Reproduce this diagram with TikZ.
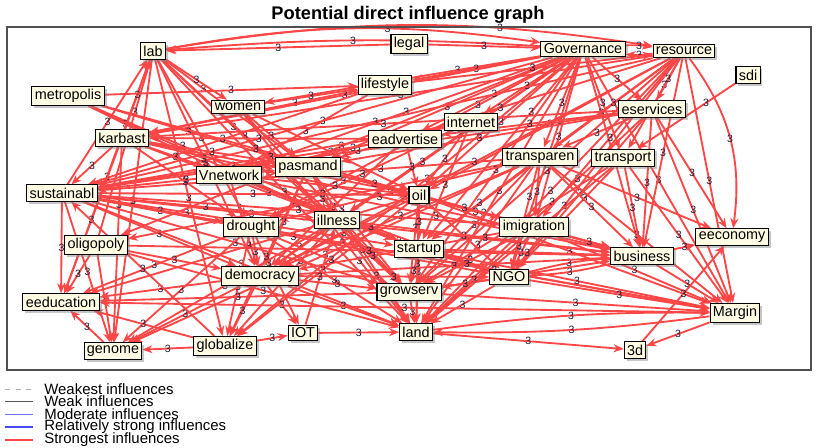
\documentclass[tikz,border=0pt]{standalone}
\usepackage{fontspec}
\setmainfont{Liberation Sans}
\usepackage{tikz}
\usetikzlibrary{arrows.meta,shadows}
\definecolor{linkR}{HTML}{FF4646}
\definecolor{boxF}{HTML}{FFFCE3}
\definecolor{inkN}{HTML}{1C1C3A}
\definecolor{frameG}{HTML}{505050}
\definecolor{weakG}{HTML}{5A5A5A}
\definecolor{modB}{HTML}{7070FF}
\definecolor{strB}{HTML}{4848FF}
\pgfdeclarelayer{links}
\pgfsetlayers{links,main}
\tikzset{
  vbox/.style={draw=black, semithick, fill=boxF, inner sep=1.6pt,
               font=\fontsize{8.2}{9}\selectfont,
               drop shadow={shadow xshift=1.4pt, shadow yshift=-1.4pt,
                            opacity=0.45, fill=gray}},
  infl/.style={-{Stealth[length=2mm,width=1.6mm]}, draw=linkR, line width=1.05pt},
  wt/.style={font=\fontsize{6}{6}\selectfont, text=inkN, inner sep=0pt},
  titletext/.style={font=\bfseries\fontsize{10.4}{12}\selectfont},
  legtext/.style={font=\fontsize{8.5}{9}\selectfont, anchor=west, inner sep=0pt},
}

\begin{document}
\begin{tikzpicture}[x=0.02cm, y=-0.02cm]
  \useasboundingbox (0,0) rectangle (817,448);
  \node[titletext] (title) at (408,15) {Potential direct influence graph};
  \draw[frameG, line width=0.9pt] (7,27) rectangle (811,370);
  % variables
  \node[vbox] (lab)       at (153,51)  {lab};
  \node[vbox] (legal)     at (409,44)  {legal};
  \node[vbox] (gov)       at (583,49)  {Governance};
  \node[vbox] (resource)  at (684,51)  {resource};
  \node[vbox] (sdi)       at (748,75)  {sdi};
  \node[vbox] (metro)     at (68,96)   {metropolis};
  \node[vbox] (lifestyle) at (385,85)  {lifestyle};
  \node[vbox] (women)     at (238,107) {women};
  \node[vbox] (eserv)     at (652,109) {eservices};
  \node[vbox] (internet)  at (471,122) {internet};
  \node[vbox] (eadv)      at (405,139) {eadvertise};
  \node[vbox] (karbast)   at (122,138) {karbast};
  \node[vbox] (transp)    at (540,157) {transparen};
  \node[vbox] (transport) at (623,158) {transport};
  \node[vbox] (pasmand)   at (308,167) {pasmand};
  \node[vbox] (vnet)      at (229,175) {Vnetwork};
  \node[vbox] (sustain)   at (62,193)  {sustainabl};
  \node[vbox] (oil)       at (419,195) {oil};
  \node[vbox] (illness)   at (337,220) {illness};
  \node[vbox] (drought)   at (251,227) {drought};
  \node[vbox] (imig)      at (534,227) {imigration};
  \node[vbox] (oligo)     at (96,245)  {oligopoly};
  \node[vbox] (startup)   at (419,249) {startup};
  \node[vbox] (eecon)     at (732,237) {eeconomy};
  \node[vbox] (business)  at (642,256) {business};
  \node[vbox] (democ)     at (260,276) {democracy};
  \node[vbox] (ngo)       at (509,277) {NGO};
  \node[vbox] (growserv)  at (409,292) {growserv};
  \node[vbox] (eeduc)     at (61,302)  {eeducation};
  \node[vbox] (margin)    at (735,313) {Margin};
  \node[vbox] (iot)       at (303,333) {IOT};
  \node[vbox] (land)      at (416,332) {land};
  \node[vbox] (genome)    at (113,351) {genome};
  \node[vbox] (glob)      at (225,346) {globalize};
  \node[vbox] (threed)    at (635,350) {3d};

  \begin{pgfonlayer}{links}
  % curved links along the top and right
  \draw[infl] (lab) to[bend left=9] node[wt, pos=0.6]{3} (gov);
  \draw[infl] (lab) to[bend left=9] node[wt, pos=0.7]{3} (resource);
  \draw[infl] (gov) to[bend right=4] node[wt]{3} (lab);
  \draw[infl] (gov) to[bend left=6] node[wt]{3} (resource);
  \draw[infl] (resource) to[bend left=6] node[wt]{3} (gov);
  \draw[infl] (resource) to[bend left=22] node[wt]{3} (eecon);
  \draw[infl] (land) to[bend left=4] node[wt]{3} (margin);
  \draw[infl] (margin) to[bend left=4] node[wt]{3} (land);
  \draw[infl] (ngo) to[bend left=5] node[wt]{3} (business);
  \draw[infl] (business) to[bend left=5] node[wt]{3} (ngo);
  % weight moved off a box
  \foreach \s/\t/\p in {gov/women/0.3, gov/drought/0.3, gov/ngo/0.3,
      gov/business/0.3, gov/startup/0.3, resource/transport/0.3,
      resource/ngo/0.7, resource/startup/0.3, lab/pasmand/0.3,
      lab/growserv/0.3, metro/startup/0.3, metro/vnet/0.3, women/land/0.7,
      lifestyle/karbast/0.3, eserv/land/0.3, sdi/transport/0.3,
      transp/ngo/0.3, transport/ngo/0.3, transport/growserv/0.3,
      karbast/genome/0.3, vnet/startup/0.3, vnet/democ/0.3,
      sustain/startup/0.3, sustain/margin/0.4, oil/business/0.3,
      oil/growserv/0.3, illness/ngo/0.3, illness/glob/0.3, drought/iot/0.3,
      imig/democ/0.15, startup/land/0.2, growserv/business/0.3,
      oligo/lab/0.7, transp/sustain/0.3, sustain/business/0.3,
      pasmand/growserv/0.3, karbast/oil/0.75, transp/oligo/0.2}
    \draw[infl] (\s) -- node[wt, pos=\p]{3} (\t);
  % from Governance
  \foreach \s/\t in {legal/gov, legal/lab, gov/lifestyle, gov/karbast,
      gov/sustain, gov/vnet, gov/pasmand, gov/oil, gov/illness, gov/democ,
      gov/growserv, gov/land, gov/imig, gov/transp, gov/margin, gov/eserv,
      gov/transport, gov/internet, gov/eadv, gov/oligo, gov/glob}
    \draw[infl] (\s) -- node[wt]{3} (\t);
  % from resource
  \foreach \s/\t in {resource/margin, resource/business, resource/transp,
      resource/eserv, resource/imig, resource/growserv, resource/land,
      resource/sustain, resource/karbast, resource/pasmand, resource/oil,
      resource/democ, lifestyle/resource}
    \draw[infl] (\s) -- node[wt]{3} (\t);
  % upper left
  \foreach \s/\t in {lab/eeduc, lab/genome, lab/drought, lab/democ,
      lab/glob, lab/illness, lab/women, lab/land, karbast/lab, sustain/lab,
      metro/lifestyle, metro/pasmand, metro/oil, metro/illness,
      women/lifestyle, women/pasmand, women/oil, women/growserv,
      lifestyle/vnet, lifestyle/sustain}
    \draw[infl] (\s) -- node[wt]{3} (\t);
  % upper right
  \foreach \s/\t in {eserv/margin, eserv/business, eserv/transp,
      eserv/sustain, eserv/karbast, eserv/eadv, eserv/eecon, eserv/ngo,
      eserv/pasmand, internet/oil, internet/drought, internet/startup,
      internet/sustain, internet/vnet, eadv/sustain, eadv/karbast, eadv/oil,
      eadv/democ, transp/growserv, transp/land, transp/startup,
      transp/democ, transp/drought, transp/business, transp/margin,
      transp/genome, transp/imig, transp/eecon,
      transport/business, transport/margin, transport/land}
    \draw[infl] (\s) -- node[wt]{3} (\t);
  % middle band
  \foreach \s/\t in {karbast/vnet, karbast/pasmand,
      karbast/eeduc, karbast/startup, karbast/business, karbast/sustain,
      karbast/drought, pasmand/oil, pasmand/land, pasmand/democ,
      pasmand/glob, pasmand/illness, pasmand/business, vnet/oil,
      vnet/business, vnet/ngo, sustain/drought, sustain/illness,
      sustain/oil, sustain/democ, sustain/ngo, sustain/growserv,
      sustain/land, sustain/eeduc, sustain/imig, sustain/pasmand,
      sustain/genome}
    \draw[infl] (\s) -- node[wt]{3} (\t);
  \foreach \s/\t in {oil/ngo, oil/land, oil/margin, oil/startup, oil/democ,
      oil/imig, oil/glob, oil/eeduc, illness/democ, illness/growserv,
      illness/land, illness/business, illness/genome, drought/democ,
      drought/growserv, drought/land, drought/glob, drought/genome,
      drought/eeduc, drought/margin, oligo/eeduc, oligo/genome, oligo/land,
      oligo/business, oligo/democ}
    \draw[infl] (\s) -- node[wt]{3} (\t);
  % lower half
  \foreach \s/\t in {democ/genome, democ/eeduc, democ/glob, democ/iot,
      democ/land, democ/growserv, democ/ngo, democ/business, imig/ngo,
      imig/growserv, imig/land, imig/business, imig/margin, startup/ngo,
      startup/growserv, startup/business, startup/margin, ngo/margin,
      ngo/land, ngo/growserv, business/eecon, business/margin,
      growserv/land, growserv/margin, growserv/eeduc, genome/eeduc,
      glob/genome, glob/iot, glob/sustain, glob/eeduc, iot/land,
      iot/illness, land/threed, margin/threed, threed/eecon, margin/eeduc}
    \draw[infl] (\s) -- node[wt]{3} (\t);
  \end{pgfonlayer}

  % legend
  \draw[gray!60, thin, dashed] (5,389) -- (33,389);
  \node[legtext] (lg1) at (44,389) {Weakest influences};
  \draw[weakG, thin] (5,401) -- (33,401);
  \node[legtext] (lg2) at (44,401) {Weak influences};
  \draw[modB, thin] (5,414) -- (33,414);
  \node[legtext] (lg3) at (44,414) {Moderate influences};
  \draw[strB, line width=1.2pt] (5,427) -- (33,427);
  \node[legtext] (lg4) at (44,427) {Relatively strong influences};
  \draw[linkR, line width=1.2pt] (5,440) -- (33,440);
  \node[legtext] (lg5) at (44,440) {Strongest influences};
\end{tikzpicture}
\end{document}
